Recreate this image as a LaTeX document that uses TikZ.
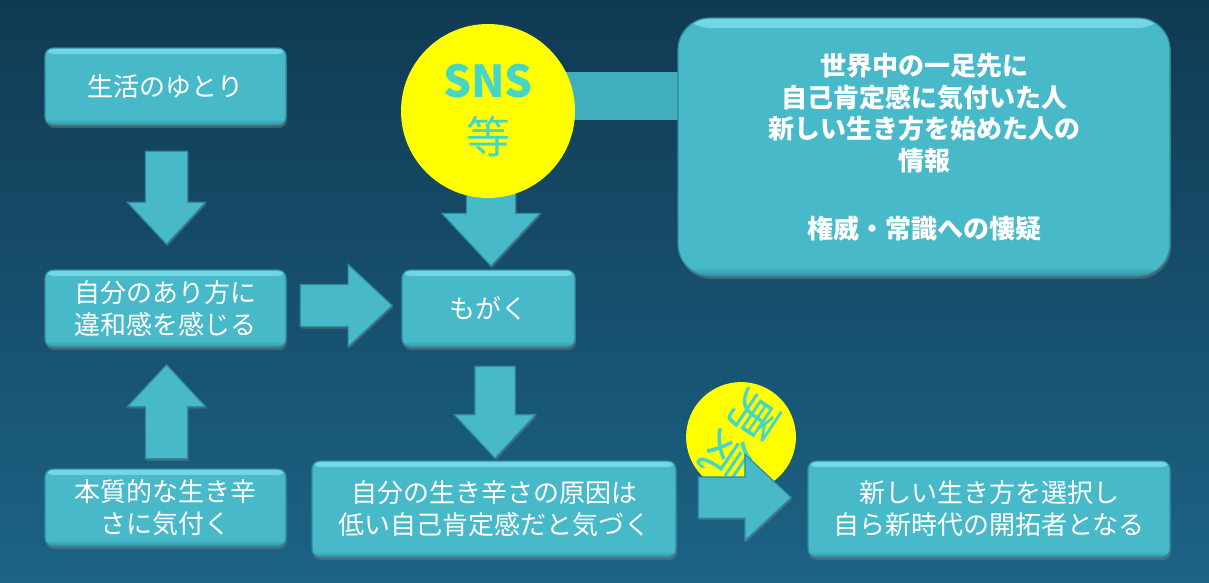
\documentclass[tikz,border=0pt]{standalone}
\usepackage{fontspec}
\setmainfont{Noto Sans CJK JP}
\usetikzlibrary{shapes.arrows,shapes.geometric,calc,shadows}
\definecolor{bgtop}{HTML}{103A52}
\definecolor{bgbot}{HTML}{1C6386}
\definecolor{boxfill}{HTML}{48B9C9}
\definecolor{boxedge}{HTML}{2F8C9E}
\definecolor{boxhi}{HTML}{72D8E6}
\definecolor{boxlo}{HTML}{3496A8}
\definecolor{barcol}{HTML}{40AEBD}
\definecolor{ylw}{HTML}{FFFF00}
\definecolor{turq}{HTML}{45D6C6}
\tikzset{
  bevel/.style={path picture={
    \shade[top color=boxhi, bottom color=boxfill]
      (path picture bounding box.north west) rectangle ($(path picture bounding box.north east)+(0,#1)$);
    \shade[top color=boxfill, bottom color=boxlo]
      ($(path picture bounding box.south west)+(0,-#1)$) rectangle (path picture bounding box.south east);}},
  box/.style={draw=boxedge, line width=1.2pt, fill=boxfill, rounded corners=8pt,
    text=white, font=\fontsize{26}{32}\selectfont, align=center, inner sep=0pt,
    minimum width=241pt, minimum height=77pt, bevel=6,
    drop shadow={shadow xshift=1pt, shadow yshift=-3pt, opacity=.45}},
  barrow/.style={single arrow, fill=boxfill, draw=boxedge, line width=1.2pt,
    inner sep=20.5pt, single arrow head extend=18pt, single arrow tip angle=86,
    minimum height=93pt, anchor=tail,
    drop shadow={shadow xshift=1pt, shadow yshift=-2pt, opacity=.4}},
  ycirc/.style={circle, fill=ylw, inner sep=0pt, text=turq}
}
\begin{document}
\begin{tikzpicture}[x=1pt,y=-1pt]
\useasboundingbox (0,0) rectangle (1209,582);
\shade[top color=bgtop, bottom color=bgbot] (0,0) rectangle (1209,582);

% connector bar between SNS circle and info box
\fill[barcol] (540,72) rectangle (682,120);

% boxes
\node[box] (n1) at (165.5,86.5) {生活のゆとり};
\node[box] (n2) at (165.5,308.5) {自分のあり方に\\違和感を感じる};
\node[box] (n3) at (165.5,507.5) {本質的な生き辛\\さに気付く};
\node[box, minimum width=173pt] (n4) at (488.5,308.5) {もがく};
\node[box, minimum width=364pt, minimum height=96pt] (n5) at (494,509)
  {自分の生き辛さの原因は\\低い自己肯定感だと気づく};
\node[box, minimum width=362pt, minimum height=96pt] (n6) at (989,509)
  {新しい生き方を選択し\\自ら新時代の開拓者となる};
\node[box, rounded corners=32pt, minimum width=492pt, minimum height=258pt, bevel=10,
  font=\bfseries\fontsize{26}{31.7}\selectfont] (info) at (924,147)
  {世界中の一足先に\\自己肯定感に気付いた人\\新しい生き方を始めた人の\\情報\\[36pt]権威・常識への懐疑};

% block arrows
\node[barrow, rotate=-90] (a1) at ($(n1.south)+(1,25)$) {};
\node[barrow, rotate=90, minimum height=94pt] (a2) at ($(n3.north)+(1,-9)$) {};
\node[barrow, minimum height=92pt, single arrow head extend=20pt] (a3) at ($(n2.east)+(13,-3)$) {};
\node[barrow, rotate=-90, minimum height=96pt, inner sep=24pt, single arrow head extend=24.5pt] (a4) at ($(n4.north)+(2.5,-100)$) {};
\node[barrow, rotate=-90, inner sep=19.5pt, single arrow head extend=20.5pt, minimum height=92pt] (a5) at ($(n4.south)+(6.5,18)$) {};

% SNS circle
\node[ycirc, minimum size=174pt, align=center, font=\fontsize{44}{56}\selectfont] (sns) at (488,111) {\textbf{SNS}\\等};

% courage circle
\node[ycirc, minimum size=108pt, rotate=-124, font=\fontsize{50}{50}\selectfont] (yuki) at (741,437) {勇気};

\node[barrow, minimum height=93pt, inner sep=20pt, single arrow head extend=22.5pt] (a6) at ($(n5.east)+(21,-11.5)$) {};
\end{tikzpicture}
\end{document}
